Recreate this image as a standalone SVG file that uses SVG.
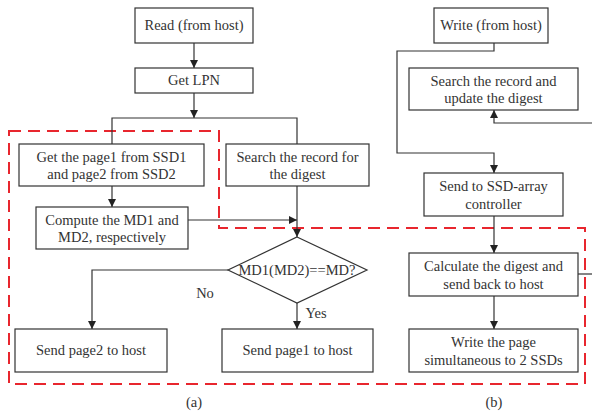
<svg xmlns="http://www.w3.org/2000/svg" width="592" height="412" viewBox="0 0 592 412">
<style>
.b{fill:#fff;stroke:#333;stroke-width:1.2}
text{font-family:"Times New Roman","Liberation Serif",serif;font-size:14.5px;fill:#333;text-anchor:middle}
.c{fill:none;stroke:#333;stroke-width:1.2}
.d{fill:none;stroke:#e8262e;stroke-width:2;stroke-dasharray:12 7}
</style>
<defs>
<marker id="a" viewBox="0 0 10 10" refX="10" refY="5" markerWidth="8" markerHeight="8" markerUnits="userSpaceOnUse" orient="auto">
<path d="M0,0L10,5L0,10z" fill="#222"/>
</marker>
</defs>
<path class="d" d="M9,131H219V228H585V384H9Z"/>
<g id="connectors">
<path class="c" d="M194,43V68" marker-end="url(#a)"/>
<path class="c" d="M194,93V118" marker-end="url(#a)"/>
<path class="c" d="M112,144V118H297V144"/>
<path class="c" d="M112,186V207" marker-end="url(#a)"/>
<path class="c" d="M188,220H297" marker-end="url(#a)"/>
<path class="c" d="M297,186V237" marker-end="url(#a)"/>
<path class="c" d="M228,270H92V329" marker-end="url(#a)"/>
<path class="c" d="M297,303V329" marker-end="url(#a)"/>
<path class="c" d="M494,43V51H397V153H494V173" marker-end="url(#a)"/>
<path class="c" d="M592,123H494V110" marker-end="url(#a)"/>
<path class="c" d="M494,216V253" marker-end="url(#a)"/>
<path class="c" d="M578,274H592"/>
<path class="c" d="M494,296V329" marker-end="url(#a)"/>
</g>
<g id="read"><rect class="b" x="135" y="8" width="118" height="35"/><text x="194" y="30">Read (from host)</text></g>
<g id="getlpn"><rect class="b" x="135" y="68" width="118" height="25"/><text x="194" y="85">Get LPN</text></g>
<g id="getpage"><rect class="b" x="19" y="144" width="185" height="42"/><text x="111.5" y="162">Get the page1 from SSD1</text><text x="111.5" y="179">and page2 from SSD2</text></g>
<g id="search"><rect class="b" x="226" y="144" width="143" height="42"/><text x="297.5" y="162">Search the record for</text><text x="297.5" y="179">the digest</text></g>
<g id="compute"><rect class="b" x="36" y="207" width="152" height="42"/><text x="112" y="225">Compute the MD1 and</text><text x="112" y="242">MD2, respectively</text></g>
<g id="decision"><path class="b" d="M297,237L367,270L297,303L228,270Z"/><text x="297" y="275">MD1(MD2)==MD?</text></g>
<text x="205" y="298">No</text>
<text x="316" y="318">Yes</text>
<g id="sendpage2"><rect class="b" x="15" y="329" width="152" height="43"/><text x="91" y="355">Send page2 to host</text></g>
<g id="sendpage1"><rect class="b" x="222" y="329" width="151" height="43"/><text x="297.5" y="355">Send page1 to host</text></g>
<g id="write"><rect class="b" x="434" y="8" width="114" height="35"/><text x="491" y="30">Write (from host)</text></g>
<g id="update"><rect class="b" x="409" y="68" width="169" height="42"/><text x="493.5" y="86">Search the record and</text><text x="493.5" y="103">update the digest</text></g>
<g id="sendctrl"><rect class="b" x="424" y="173" width="139" height="43"/><text x="493.5" y="191">Send to SSD-array</text><text x="493.5" y="209">controller</text></g>
<g id="calc"><rect class="b" x="409" y="253" width="169" height="43"/><text x="493.5" y="271">Calculate the digest and</text><text x="493.5" y="289">send back to host</text></g>
<g id="writepage"><rect class="b" x="409" y="329" width="169" height="43"/><text x="493.5" y="347">Write the page</text><text x="493.5" y="365">simultaneous to 2 SSDs</text></g>
<text x="194" y="407">(a)</text>
<text x="494" y="407">(b)</text>
</svg>
